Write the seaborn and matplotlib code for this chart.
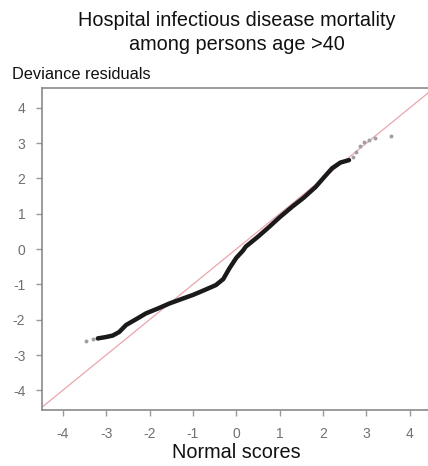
"""Q-Q plot of deviance residuals against normal scores."""

import matplotlib
matplotlib.use("Agg")
import matplotlib.pyplot as plt
import pandas as pd
import seaborn as sns

# main body of the quantile curve (normal score, deviance residual)
body_x = [-3.19, -3.0, -2.85, -2.7, -2.54, -2.3, -2.08, -1.8, -1.54, -1.25,
          -1.0, -0.75, -0.47, -0.3, -0.16, 0.0, 0.15, 0.22, 0.5, 0.76,
          1.0, 1.29, 1.55, 1.83, 2.0, 2.21, 2.4, 2.6]
body_y = [-2.53, -2.49, -2.45, -2.35, -2.15, -1.98, -1.82, -1.68, -1.54, -1.41,
          -1.30, -1.17, -1.02, -0.85, -0.55, -0.25, -0.05, 0.07, 0.35, 0.63,
          0.90, 1.20, 1.45, 1.76, 2.0, 2.29, 2.45, 2.52]

# sparse tail points
tail_x = [-3.46, -3.3, -3.22, 2.68, 2.75, 2.85, 2.95, 3.05, 3.2, 3.56]
tail_y = [-2.60, -2.55, -2.53, 2.62, 2.75, 2.93, 3.04, 3.08, 3.14, 3.20]

ticks = [-4, -3, -2, -1, 0, 1, 2, 3, 4]

sns.set_theme(style="white")
plt.rcParams["font.family"] = ["Liberation Sans", "DejaVu Sans"]
plt.rcParams["axes.unicode_minus"] = False

fig = plt.figure(figsize=(4.28, 4.66), dpi=100)
ax = fig.add_axes([0.098, 0.120, 0.905, 0.691])

ax.plot([-4.6, 4.6], [-4.6, 4.6], color="#e8a6ad", lw=0.9, zorder=1)

body = pd.DataFrame({"x": body_x, "y": body_y})
sns.lineplot(data=body, x="x", y="y", sort=False, color="#1a1a1a", lw=3.2,
             ax=ax, zorder=3)
tail = pd.DataFrame({"x": tail_x, "y": tail_y})
sns.scatterplot(data=tail, x="x", y="y", color="#a0a0a0", s=8,
                linewidth=0, ax=ax, zorder=2)

ax.set_xlim(-4.48, 4.45)
ax.set_ylim(-4.56, 4.56)
ax.set_xticks(ticks)
ax.set_yticks(ticks)
ax.set_xlabel("")
ax.set_ylabel("")

for side in ["left", "bottom", "top"]:
    ax.spines[side].set_color("#8a8a8a")
    ax.spines[side].set_linewidth(1.2)
ax.spines["right"].set_visible(False)

ax.tick_params(axis="both", which="both", direction="out", length=4,
               width=1, color="#9a9a9a", labelcolor="#707070",
               labelsize=10, bottom=True, left=True)
ax.tick_params(axis="x", pad=8)
ax.tick_params(axis="y", pad=8)

fig.text(0.553, 0.957, "Hospital infectious disease mortality",
         ha="center", va="center", fontsize=14.3, color="#111111")
fig.text(0.553, 0.905, "among persons age >40",
         ha="center", va="center", fontsize=14.3, color="#111111")
fig.text(0.027, 0.840, "Deviance residuals", ha="left", va="center",
         fontsize=11.8, color="#111111")
fig.text(0.553, 0.030, "Normal scores", ha="center", va="center",
         fontsize=14.3, color="#111111")

fig.savefig("out.png", dpi=100)
plt.close(fig)
